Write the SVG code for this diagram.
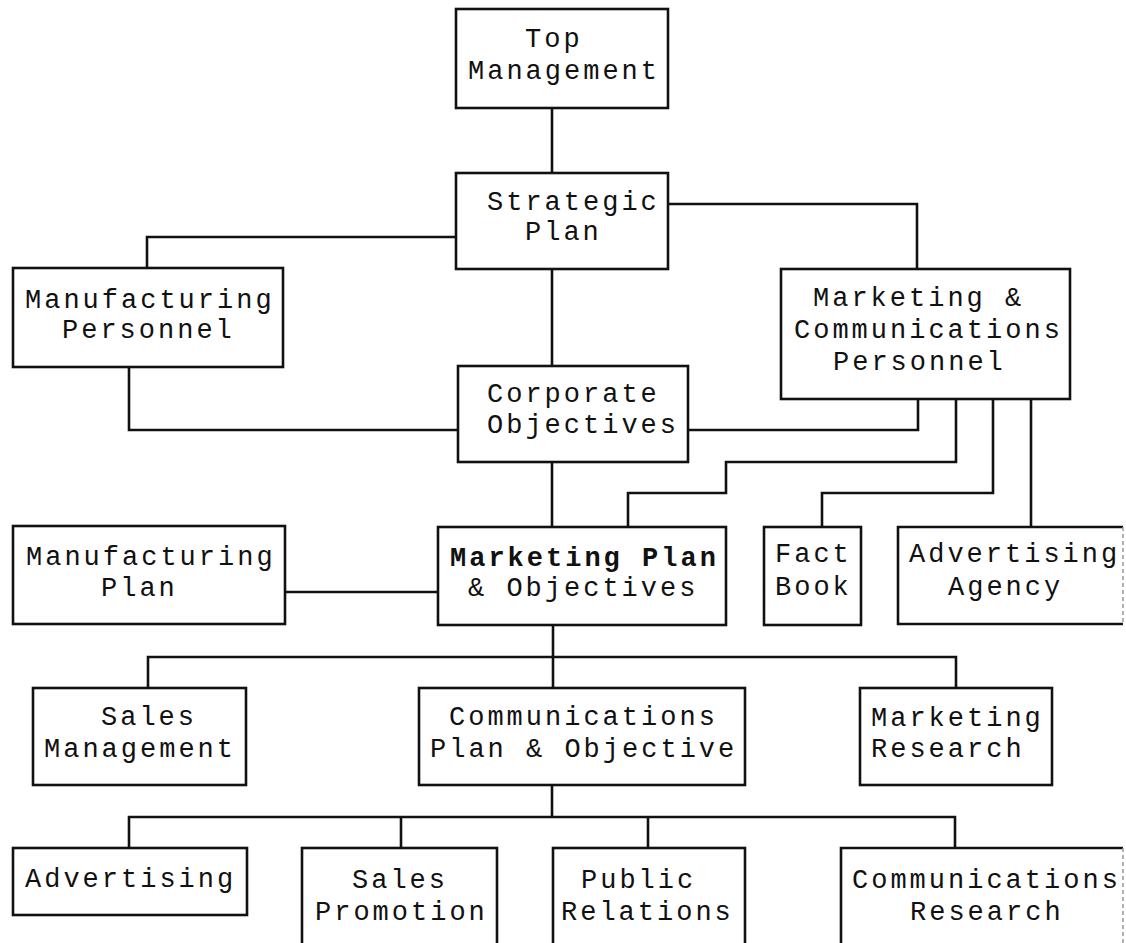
<svg xmlns="http://www.w3.org/2000/svg" width="1126" height="943" viewBox="0 0 1126 943">
<style>
.box{fill:#fff;stroke:#111;stroke-width:2.6}
.edge{fill:none;stroke:#999;stroke-width:1.5;stroke-dasharray:4 3}
.ln{fill:none;stroke:#111;stroke-width:2.6}
text{font-family:"Liberation Mono","DejaVu Sans Mono",monospace;font-size:27px;letter-spacing:3px;fill:#111}
.b{font-weight:bold}
</style>
<rect width="1126" height="943" fill="#fff"/>
<g id="connectors">
<path class="ln" d="M552,108 V173"/>
<path class="ln" d="M552,269 V366"/>
<path class="ln" d="M456,237 H147 V268"/>
<path class="ln" d="M668,204 H917 V269"/>
<path class="ln" d="M129,367 V430 H458"/>
<path class="ln" d="M688,430 H918 V399"/>
<path class="ln" d="M956,399 V462 H726 V493 H628 V527"/>
<path class="ln" d="M993,399 V493 H822 V527"/>
<path class="ln" d="M1031,399 V527"/>
<path class="ln" d="M552,462 V527"/>
<path class="ln" d="M285,592 H438"/>
<path class="ln" d="M553,625 V688"/>
<path class="ln" d="M148,688 V657 H956 V688"/>
<path class="ln" d="M552,785 V817"/>
<path class="ln" d="M129,848 V817 H955 V848"/>
<path class="ln" d="M401,817 V848"/>
<path class="ln" d="M648,817 V848"/>
</g>
<g id="top-management">
<rect class="box" x="456" y="9" width="212" height="99"/>
<text x="525" y="47">Top</text>
<text x="468" y="79">Management</text>
</g>
<g id="strategic-plan">
<rect class="box" x="456" y="173" width="212" height="96"/>
<text x="487" y="210">Strategic</text>
<text x="525" y="240">Plan</text>
</g>
<g id="manufacturing-personnel">
<rect class="box" x="13" y="268" width="270" height="99"/>
<text x="25" y="308">Manufacturing</text>
<text x="62" y="338">Personnel</text>
</g>
<g id="corporate-objectives">
<rect class="box" x="458" y="366" width="230" height="96"/>
<text x="487" y="402">Corporate</text>
<text x="487" y="433">Objectives</text>
</g>
<g id="marketing-communications-personnel">
<rect class="box" x="781" y="269" width="289" height="130"/>
<text x="813" y="306">Marketing &amp;</text>
<text x="794" y="338">Communications</text>
<text x="833" y="370">Personnel</text>
</g>
<g id="manufacturing-plan">
<rect class="box" x="13" y="526" width="272" height="98"/>
<text x="26" y="565">Manufacturing</text>
<text x="101" y="596">Plan</text>
</g>
<g id="marketing-plan">
<rect class="box" x="438" y="527" width="288" height="98"/>
<text class="b" x="450" y="566">Marketing Plan</text>
<text x="468" y="596">&amp; Objectives</text>
</g>
<g id="fact-book">
<rect class="box" x="764" y="527" width="97" height="98"/>
<text x="775" y="562">Fact</text>
<text x="775" y="595">Book</text>
</g>
<g id="advertising-agency">
<path class="box" d="M1123,527 H898 V624 H1123"/>
<path class="edge" d="M1123,527 V624"/>
<text x="909" y="562">Advertising</text>
<text x="948" y="595">Agency</text>
</g>
<g id="sales-management">
<rect class="box" x="33" y="688" width="213" height="97"/>
<text x="101" y="725">Sales</text>
<text x="44" y="757">Management</text>
</g>
<g id="communications-plan">
<rect class="box" x="419" y="688" width="326" height="97"/>
<text x="449" y="725">Communications</text>
<text x="430" y="757">Plan &amp; Objective</text>
</g>
<g id="marketing-research">
<rect class="box" x="860" y="688" width="192" height="97"/>
<text x="871" y="726">Marketing</text>
<text x="871" y="757">Research</text>
</g>
<g id="advertising">
<rect class="box" x="13" y="848" width="234" height="67"/>
<text x="25" y="887">Advertising</text>
</g>
<g id="sales-promotion">
<rect class="box" x="302" y="848" width="195" height="110"/>
<text x="352" y="888">Sales</text>
<text x="315" y="920">Promotion</text>
</g>
<g id="public-relations">
<rect class="box" x="553" y="848" width="192" height="110"/>
<text x="581" y="888">Public</text>
<text x="561" y="920">Relations</text>
</g>
<g id="communications-research">
<path class="box" d="M1123,848 H841 V958"/>
<path class="edge" d="M1123,848 V943"/>
<text x="852" y="888">Communications</text>
<text x="910" y="920">Research</text>
</g>
</svg>
